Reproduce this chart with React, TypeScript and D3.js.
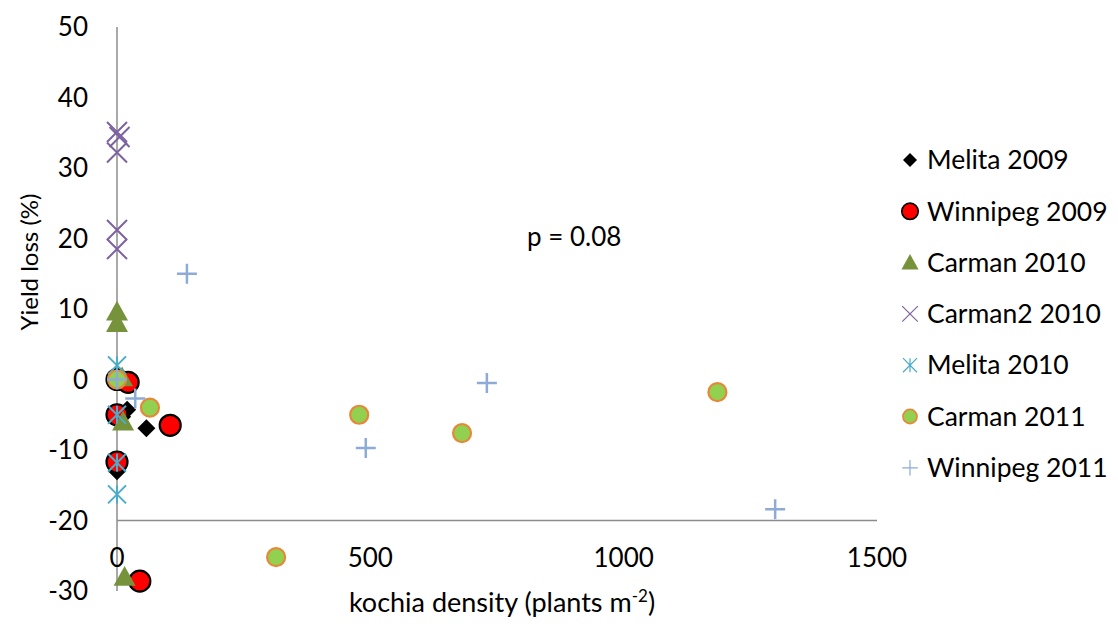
import React from 'react';
import * as d3 from 'd3';

// series data: [density, yield loss]
const melita2009: [number, number][] = [[0, -13], [10, -5.3], [20, -4.3], [58, -6.9]];
const winnipeg2009: [number, number][] = [[0, 0], [22, -0.4], [0, -5], [0, -11.7], [105, -6.5], [45, -28.6]];
const carman2010: [number, number][] = [[0, 9.6], [0, 8.0], [10, 0.3], [12, -6], [15, -28]];
const carman2_2010: [number, number][] = [[0, 35.1], [5, 34.4], [0, 32.2], [0, 21.2], [0, 18.5]];
const melita2010: [number, number][] = [[0, 2], [0, -5], [0, -11.8], [0, -16.3]];
const carman2011: [number, number][] = [[0, 0], [65, -4], [314, -25.2], [478, -5], [681, -7.6], [1185, -1.8]];
const winnipeg2011: [number, number][] = [[0, 0], [36, -2.7], [138, 15], [491, -9.7], [730, -0.5], [1299, -18.4]];

const xTicks = [0, 500, 1000, 1500];
const yTicks = [50, 40, 30, 20, 10, 0, -10, -20, -30];

const seriesNames = ['Melita 2009', 'Winnipeg 2009', 'Carman 2010', 'Carman2 2010', 'Melita 2010', 'Carman 2011', 'Winnipeg 2011'];
const seriesData = [melita2009, winnipeg2009, carman2010, carman2_2010, melita2010, carman2011, winnipeg2011];
const seriesShape = ['diamond', 'redcircle', 'triangle', 'cross', 'star', 'greencircle', 'plus'];

const W = 1118;
const H = 631;
const FONT = 'Lato, "Liberation Sans", sans-serif';

const x = d3.scaleLinear().domain([0, 1500]).range([117, 877]);
const y = d3.scaleLinear().domain([-30, 50]).range([591, 27]);

function Marker({ shape, cx, cy, s = 1 }: { shape: string; cx: number; cy: number; s?: number }) {
  switch (shape) {
    case 'diamond': {
      const r = 9 * s;
      return <path d={`M${cx},${cy - r}L${cx + r},${cy}L${cx},${cy + r}L${cx - r},${cy}Z`} fill="#000" />;
    }
    case 'redcircle':
      return <circle cx={cx} cy={cy} r={10.5 * s} fill="#ff0000" stroke="#000" strokeWidth={2.2 * s} />;
    case 'triangle': {
      const r = 11 * s;
      return <path d={`M${cx},${cy - r}L${cx + r},${cy + r * 0.8}L${cx - r},${cy + r * 0.8}Z`} fill="#76933c" />;
    }
    case 'cross': {
      const r = 10 * s;
      return (
        <path d={`M${cx - r},${cy - r}L${cx + r},${cy + r}M${cx - r},${cy + r}L${cx + r},${cy - r}`}
          stroke="#7c62a0" strokeWidth={s < 1 ? 1.2 : 2} fill="none" />
      );
    }
    case 'star': {
      const r = 9 * s;
      return (
        <path d={`M${cx - r},${cy - r}L${cx + r},${cy + r}M${cx - r},${cy + r}L${cx + r},${cy - r}M${cx},${cy - r}L${cx},${cy + r}`}
          stroke="#4aacc6" strokeWidth={s < 1 ? 1.2 : 2} fill="none" />
      );
    }
    case 'greencircle':
      return <circle cx={cx} cy={cy} r={9 * s} fill="#92d050" stroke="#e6883a" strokeWidth={2.2 * s} />;
    case 'plus': {
      const r = 10 * s;
      return (
        <path d={`M${cx - r},${cy}L${cx + r},${cy}M${cx},${cy - r}L${cx},${cy + r}`}
          stroke="#8eaad6" strokeWidth={s < 1 ? 1.2 : 2.5} fill="none" />
      );
    }
    default:
      return null;
  }
}

export default function App() {
  return (
    <svg width={W} height={H} style={{ position: 'absolute', left: 0, top: 0, background: '#fff' }}
      fontFamily={FONT}>
      {/* axes */}
      <line x1={x(0)} x2={x(0)} y1={y(50)} y2={y(-30)} stroke="#8c8c8c" strokeWidth={1.5} />
      <line x1={x(0)} x2={x(1500)} y1={y(-20)} y2={y(-20)} stroke="#8c8c8c" strokeWidth={1.5} />

      {yTicks.map(t => (
        <text key={t} x={88} y={y(t)} dy="0.35em" textAnchor="end" fontSize={26} fill="#000">{t}</text>
      ))}
      {xTicks.map(t => (
        <text key={t} x={x(t)} y={558} dy="0.35em" textAnchor="middle" fontSize={26} fill="#000">{t}</text>
      ))}

      <text transform="translate(30,262) rotate(-90)" textAnchor="middle" dy="0.35em" fontSize={24}>Yield loss (%)</text>
      <text x={502} y={612} textAnchor="middle" fontSize={27}>
        kochia density (plants m<tspan dy={-10} fontSize={17}>-2</tspan><tspan dy={10}>)</tspan>
      </text>

      <text x={527} y={237} dy="0.35em" fontSize={26}>p = 0.08</text>

      {/* points */}
      {seriesData.map((data, i) => (
        <g key={seriesNames[i]}>
          {data.map((d, j) => (
            <Marker key={j} shape={seriesShape[i]} cx={x(d[0])} cy={y(d[1])} />
          ))}
        </g>
      ))}

      {/* legend */}
      {seriesNames.map((name, i) => {
        const ly = 160 + i * 51.3;
        return (
          <g key={name}>
            <Marker shape={seriesShape[i]} cx={910} cy={ly} s={0.78} />
            <text x={927} y={ly} dy="0.35em" fontSize={26.5}>{name}</text>
          </g>
        );
      })}
    </svg>
  );
}
